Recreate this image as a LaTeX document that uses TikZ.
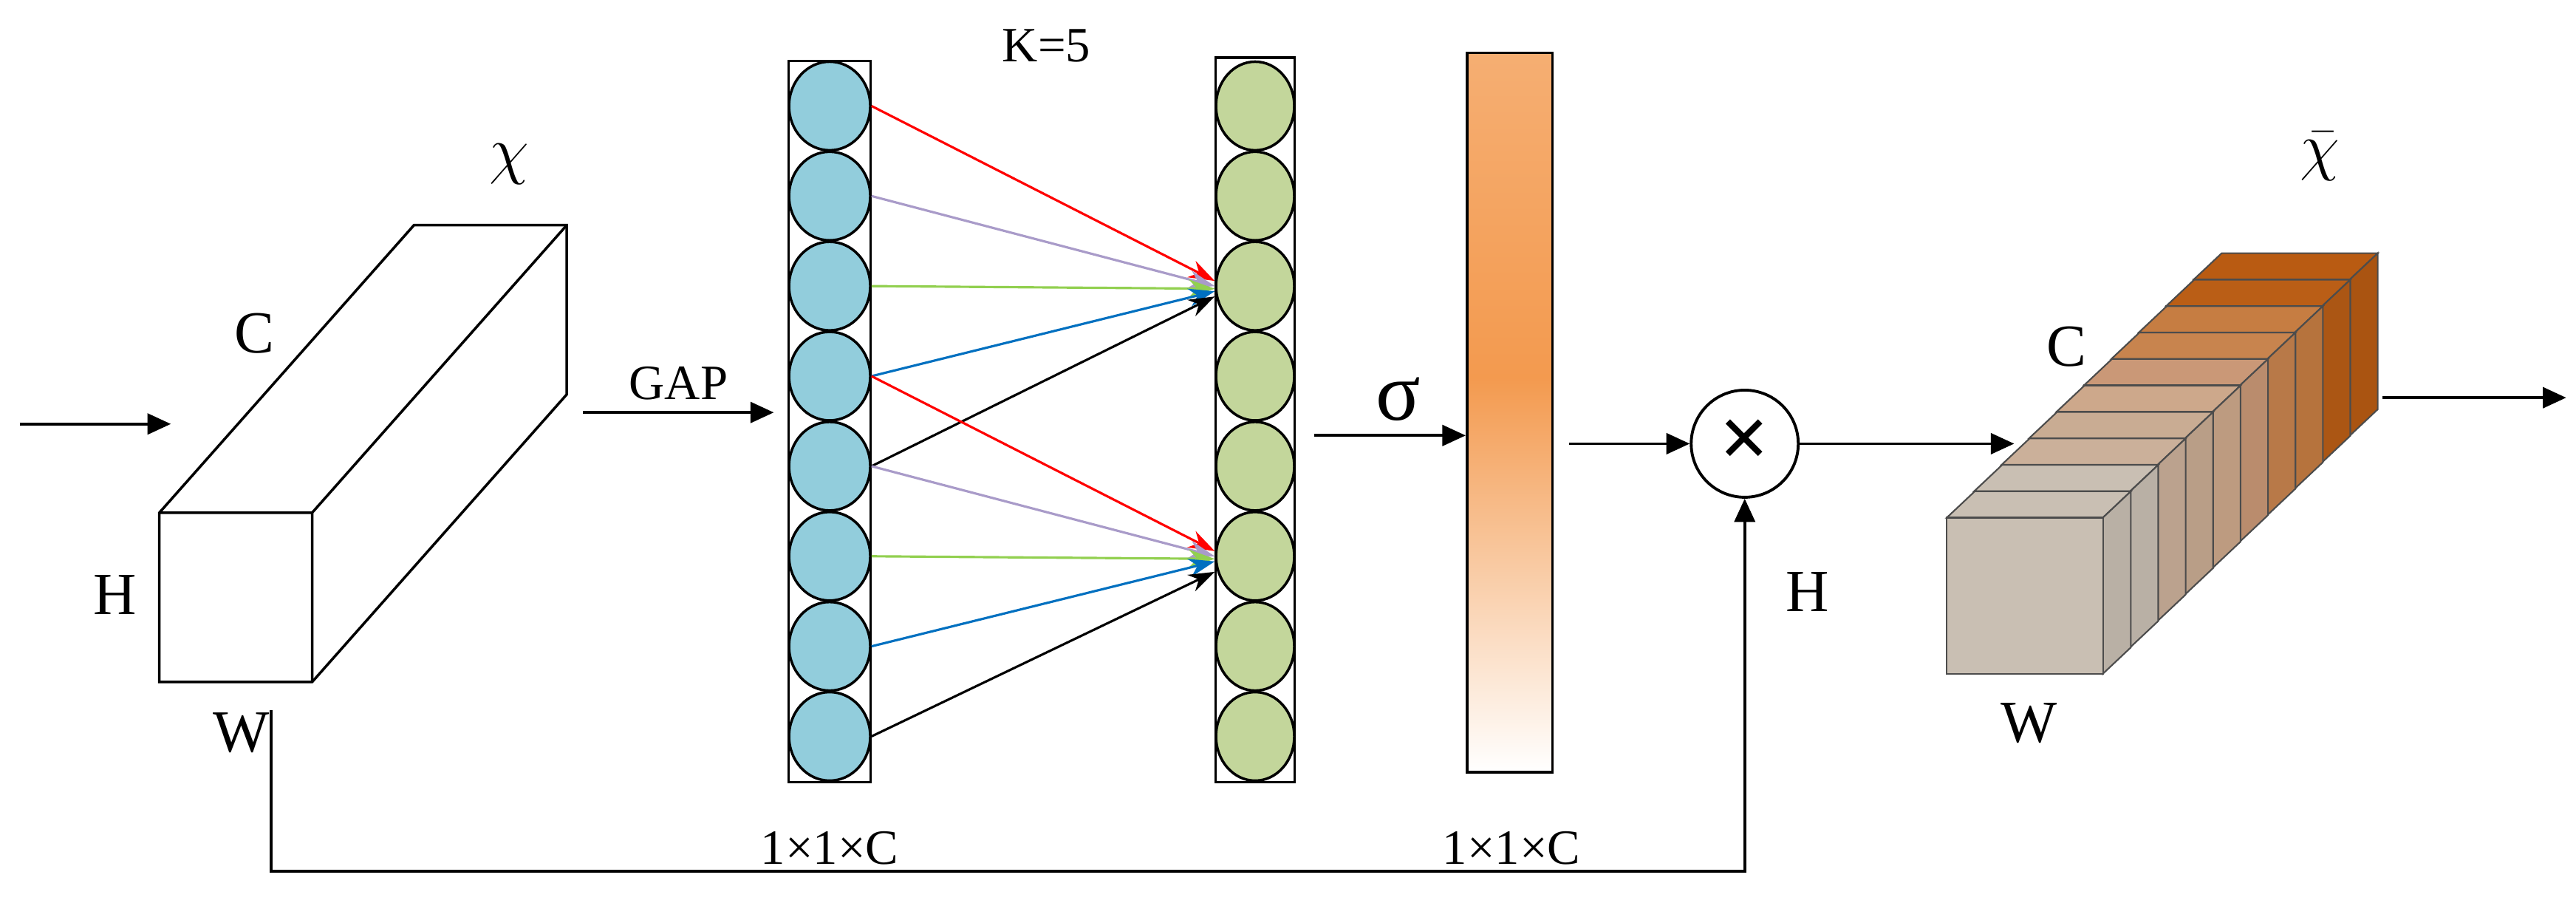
\documentclass[tikz,border=0pt]{standalone}
\usepackage{fontspec}
\setmainfont{Liberation Serif}
\usetikzlibrary{shapes.geometric,arrows.meta}
\definecolor{cb}{HTML}{92CDDC}
\definecolor{cg}{HTML}{C3D69B}
\definecolor{lp}{HTML}{A99BC9}
\definecolor{lg}{HTML}{92D050}
\definecolor{lb}{HTML}{0070C0}
\definecolor{org}{HTML}{F39A4F}
\begin{document}
\begin{tikzpicture}[x=0.02224cm,y=-0.02224cm,
  arr/.style={-{Triangle[length=9pt,width=8pt]},line width=1.1pt},
  con/.style={-{Stealth[length=10pt,width=7pt]},line width=0.9pt},
  cb/.style={ellipse,draw,line width=1pt,fill=cb,inner sep=0,minimum width=1.1cm,minimum height=1.2cm},
  cg/.style={ellipse,draw,line width=1pt,fill=cg,inner sep=0,minimum width=1.06cm,minimum height=1.2cm},
  lbl/.style={font=\fontsize{19}{22}\selectfont},
  big/.style={font=\fontsize{23}{26}\selectfont}]
\useasboundingbox (0,0) rectangle (1568,549.5);
% left cuboid
\draw[line width=1pt,fill=white] (97,312) -- (252,137) -- (345,137) -- (345,240) -- (190,415) -- (97,415) -- cycle;
\draw[line width=1pt] (97,312) -- (190,312) -- (345,137) (190,312) -- (190,415);
\node[font=\fontsize{28}{30}\selectfont] (chi) at (310,100) {$\chi$};
\node[big] (c1) at (155,203) {C};
\node[big] (h1) at (70,362) {H};
\node[big] (w1) at (147,446) {W};
\coordinate (in0) at (12,258);
\coordinate (in1) at (104,258);
\draw[arr] (in0) -- (in1);
\coordinate (g0a) at (355,251);
\coordinate (g0b) at (471,251);
\draw[arr] (g0a) -- (g0b) node[lbl,midway,above=1pt] {GAP};
% columns
\draw[line width=1pt] (480,37) rectangle (530,476);
\draw[line width=1pt] (740,35) rectangle (788,476);
\foreach \i in {0,...,7}{
  \node[cb] (b\i) at (505,{64.5+\i*54.8}) {};
  \node[cg] (g\i) at (764,{64.5+\i*54.8}) {};
}
\node[lbl] (k) at (637,28) {K=5};
\draw[con,red] (b0.east) -- ([yshift=2pt]g2.west);
\draw[con,lp] (b1.east) -- ([yshift=0pt]g2.west);
\draw[con,lg] (b2.east) -- ([yshift=-1pt]g2.west);
\draw[con,lb] (b3.east) -- ([yshift=-2pt]g2.west);
\draw[con,black] (b4.east) -- ([yshift=-4pt]g2.west);
\draw[con,red] (b3.east) -- ([yshift=2pt]g5.west);
\draw[con,lp] (b4.east) -- ([yshift=0pt]g5.west);
\draw[con,lg] (b5.east) -- ([yshift=-1pt]g5.west);
\draw[con,lb] (b6.east) -- ([yshift=-2pt]g5.west);
\draw[con,black] (b7.east) -- ([yshift=-6pt]g5.west);
\node[lbl] (d1) at (505,516) {1×1×C};
% sigma bar
\shade[top color=org!80!white,bottom color=org] (893,32) rectangle (945,230);
\shade[top color=org,bottom color=white] (893,230) rectangle (945,470);
\node[draw,line width=1pt,inner sep=0,minimum width=1.16cm,minimum height=9.74cm] (bar) at (919,251) {};
\node[font=\fontsize{32}{32}\selectfont] (sig) at (851,243) {σ};
\coordinate (s0) at (800,265);
\draw[arr] (s0) -- (bar.west |- s0);
\node[lbl] (d2) at (920,516) {1×1×C};
% multiply
\node[circle,draw,line width=1.1pt,minimum size=1.45cm,inner sep=0,font=\fontsize{34}{34}\bfseries] (m) at (1062,270) {×};
\coordinate (m0) at (955,270);
\draw[arr] (m0) -- (m.west);
\coordinate (m1) at (1226,270);
\draw[arr] (m.east) -- (m1);
\coordinate (sk0) at (165,432);
\draw[arr] (sk0) -- (165,530) -- (1062,530) -- (m.south);
\node[big] (h2) at (1100,360) {H};
% right stack
\foreach \i/\c in {9/B95B12,8/BA5E16,7/C67D42,6/C8844E,5/CA9877,4/CDA88B,3/C9AC93,2/CBB09A,1/C9BFB3,0/C9BFB3}{
  \begin{scope}[shift={({\i*16.7},{-\i*16.1})}]
  \definecolor{sc}{HTML}{\c}
  \filldraw[fill=sc,draw=black!70,line width=0.6pt] (1185,315) -- (1202,299) -- (1297,299) -- (1280,315) -- cycle;
  \filldraw[fill=sc!92!black,draw=black!70,line width=0.6pt] (1280,315) -- (1297,299) -- (1297,394) -- (1280,410) -- cycle;
  \filldraw[fill=sc,draw=black!70,line width=0.6pt] (1185,315) rectangle (1280,410);
  \end{scope}
}
\node[big] (c2) at (1258,211) {C};
\node[big] (w2) at (1235,440) {W};
\node[font=\fontsize{28}{30}\selectfont] (chib) at (1412,95) {$\bar{\chi}$};
\coordinate (o0) at (1450,242);
\coordinate (o1) at (1562,242);
\draw[arr] (o0) -- (o1);
\end{tikzpicture}
\end{document}
